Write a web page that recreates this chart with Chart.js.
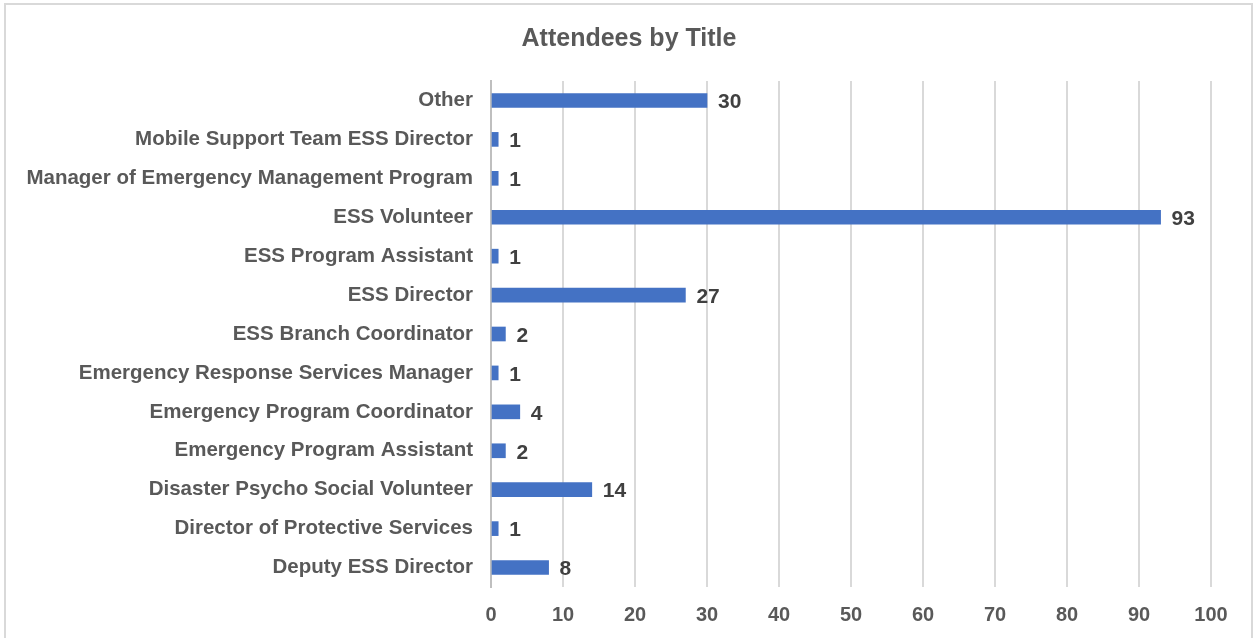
<!DOCTYPE html>
<html>
<head>
<meta charset="utf-8">
<script src="https://cdn.jsdelivr.net/npm/chart.js@4"></script>
<style>
  html, body { margin: 0; padding: 0; background: #ffffff; }
  #wrap { position: relative; width: 1258px; height: 638px; overflow: hidden; }
  #frame { position: absolute; left: 4px; top: 3px; width: 1249px; height: 645px; border: 2px solid #d9d9d9; box-sizing: border-box; pointer-events: none; }
  canvas { position: absolute; left: 0; top: 0; }
</style>
</head>
<body>
<div id="wrap">
  <canvas id="c" width="1258" height="638"></canvas>
  <div id="frame"></div>
</div>
<script>
const chartTitle = "Attendees by Title";
const categories = [
  "Other",
  "Mobile Support Team ESS Director",
  "Manager of Emergency Management Program",
  "ESS Volunteer",
  "ESS Program Assistant",
  "ESS Director",
  "ESS Branch Coordinator",
  "Emergency Response Services Manager",
  "Emergency Program Coordinator",
  "Emergency Program Assistant",
  "Disaster Psycho Social Volunteer",
  "Director of Protective Services",
  "Deputy ESS Director"
];
const attendees = [30, 1, 1, 93, 1, 27, 2, 1, 4, 2, 14, 1, 8];
const xMin = 0, xMax = 100, xStep = 10;

const FONT = '"Liberation Sans", Arial, sans-serif';

const valueLabels = {
  id: 'valueLabels',
  afterDatasetsDraw(chart) {
    const ctx = chart.ctx;
    const meta = chart.getDatasetMeta(0);
    ctx.save();
    ctx.font = 'bold 21px ' + FONT;
    ctx.fillStyle = '#404040';
    ctx.textAlign = 'left';
    ctx.textBaseline = 'middle';
    meta.data.forEach((bar, i) => {
      ctx.fillText(String(chart.data.datasets[0].data[i]), bar.x + 11, bar.y + 2);
    });
    ctx.restore();
  }
};

// Center the title over the whole canvas rather than the padded layout width
const centerTitle = {
  id: 'centerTitle',
  afterLayout(chart) {
    const t = chart.titleBlock;
    if (t) {
      t.left = 0;
      t.right = chart.width;
      t.width = chart.width;
    }
  }
};

new Chart(document.getElementById('c'), {
  type: 'bar',
  data: {
    labels: categories,
    datasets: [{
      data: attendees,
      backgroundColor: '#4472C4',
      borderWidth: 0,
      barThickness: 14
    }]
  },
  options: {
    indexAxis: 'y',
    responsive: false,
    animation: false,
    layout: { padding: { left: 0, right: 47, top: 0, bottom: 0 } },
    plugins: {
      legend: { display: false },
      tooltip: { enabled: false },
      title: {
        display: true,
        text: chartTitle,
        color: '#595959',
        font: { family: FONT, size: 25, weight: 'bold', lineHeight: 1.2 },
        padding: { top: 24, bottom: 27 }
      }
    },
    scales: {
      x: {
        min: xMin,
        max: xMax,
        grid: { color: '#d9d9d9', lineWidth: 2, drawTicks: false },
        border: { display: false },
        ticks: {
          stepSize: xStep,
          color: '#595959',
          padding: 16,
          font: { family: FONT, size: 20, weight: 'bold' }
        },
        afterFit(scale) { scale.height = 51; }
      },
      y: {
        grid: { display: false, drawTicks: false },
        border: { display: true, color: '#bfbfbf', width: 2 },
        ticks: {
          color: '#595959',
          padding: 18,
          font: { family: FONT, size: 20.5, weight: 'bold' }
        },
        afterFit(scale) { scale.width = 491; }
      }
    }
  },
  plugins: [valueLabels, centerTitle]
});
</script>
</body>
</html>
